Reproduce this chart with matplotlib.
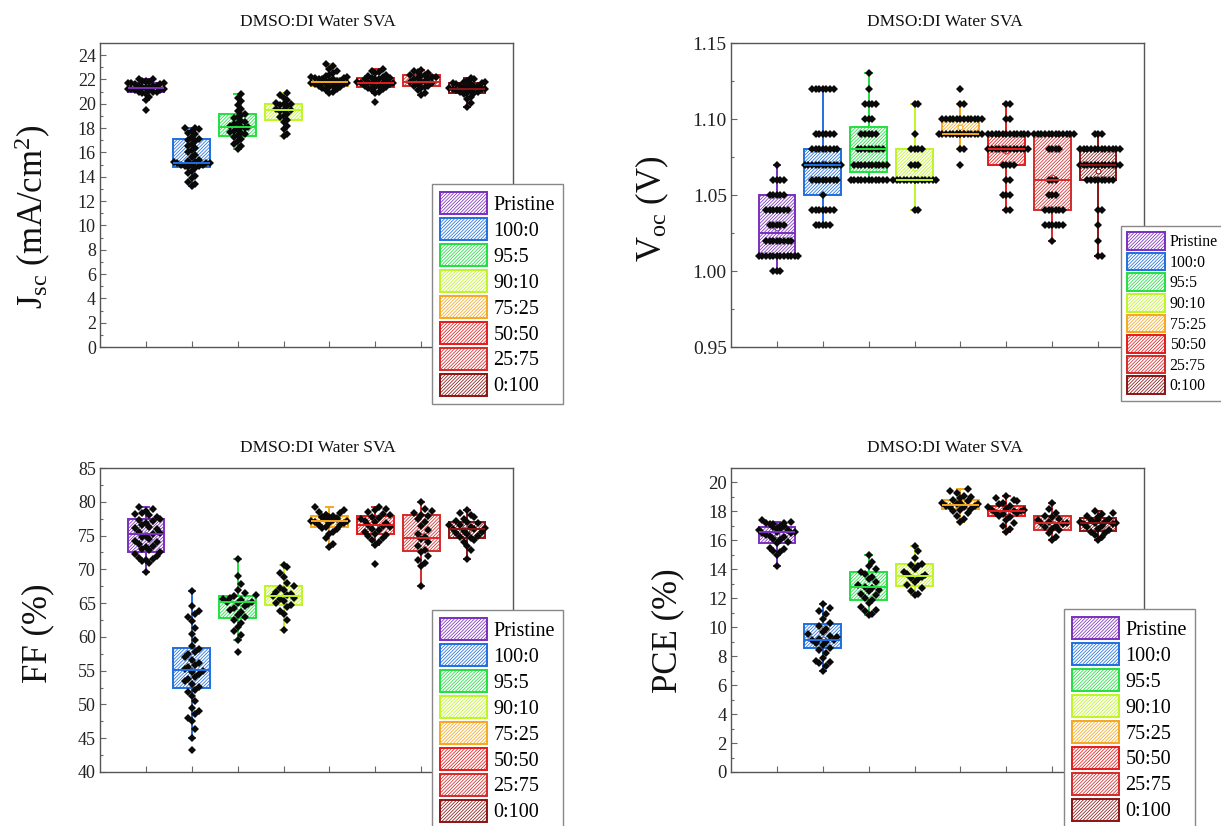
import numpy as np
import matplotlib
matplotlib.use("Agg")
import matplotlib.pyplot as plt
from matplotlib.patches import Patch

plt.rcParams['font.family'] = ['Liberation Serif', 'DejaVu Serif']
plt.rcParams['mathtext.fontset'] = 'custom'
plt.rcParams['mathtext.rm'] = 'Liberation Serif'
plt.rcParams['mathtext.it'] = 'Liberation Serif:italic'
plt.rcParams['hatch.linewidth'] = 0.55

# ---------------- data ----------------
groups = ["Pristine", "100:0", "95:5", "90:10", "75:25", "50:50", "25:75", "0:100"]
colors = ["#7B2FBE", "#1F6FE0", "#22E040", "#BFF526", "#F5A81F", "#E41A1A", "#D42A2A", "#8B1414"]
title_text = "DMSO:DI Water SVA"

# Jsc (mA/cm2)
jsc_points = [
    [19.5, 20.3, 20.6, 20.8, 20.9, 21.0, 21.0, 21.0, 21.1, 21.1, 21.1, 21.2, 21.2, 21.2, 21.3, 21.3, 21.3, 21.3,
     21.4, 21.4, 21.4, 21.5, 21.5, 21.5, 21.6, 21.6, 21.7, 21.7, 21.7, 21.8, 21.8, 21.9, 21.9, 22.0, 22.0],
    [13.25, 13.4, 13.6, 13.9, 14.1, 14.3, 14.5, 14.7, 14.8, 14.9, 14.9, 15.0, 15.0, 15.0, 15.1, 15.1, 15.1, 15.2,
     15.2, 15.3, 15.4, 15.6, 15.8, 16.0, 16.2, 16.4, 16.5, 16.7, 16.9, 17.0, 17.1, 17.3, 17.5, 17.6, 17.8, 17.9, 18.0, 18.05],
    [16.3, 16.5, 16.7, 16.9, 17.1, 17.3, 17.4, 17.5, 17.6, 17.7, 17.8, 17.9, 18.0, 18.1, 18.1, 18.2, 18.3, 18.4,
     18.5, 18.6, 18.8, 18.9, 19.1, 19.2, 19.4, 19.6, 19.9, 20.2, 20.5, 20.8],
    [17.35, 17.5, 17.9, 18.2, 18.5, 18.7, 18.9, 19.0, 19.2, 19.4, 19.5, 19.5, 19.6, 19.8, 19.9, 20.0, 20.0, 20.1,
     20.3, 20.5, 20.7, 20.9],
    [20.85, 21.0, 21.1, 21.2, 21.3, 21.4, 21.4, 21.5, 21.5, 21.6, 21.6, 21.6, 21.7, 21.7, 21.7, 21.8, 21.8, 21.8,
     21.8, 21.9, 21.9, 21.9, 22.0, 22.0, 22.0, 22.1, 22.1, 22.2, 22.2, 22.3, 22.4, 22.5, 22.7, 22.9, 23.1, 23.3],
    [20.15, 20.85, 21.0, 21.1, 21.2, 21.3, 21.35, 21.4, 21.5, 21.5, 21.6, 21.6, 21.7, 21.7, 21.75, 21.8, 21.8,
     21.9, 21.9, 22.0, 22.0, 22.0, 22.1, 22.1, 22.2, 22.3, 22.4, 22.5, 22.6, 22.7, 22.9],
    [20.7, 20.9, 21.1, 21.3, 21.4, 21.5, 21.5, 21.6, 21.7, 21.8, 21.8, 21.9, 22.0, 22.0, 22.1, 22.2, 22.2, 22.3,
     22.4, 22.4, 22.5, 22.6, 22.7, 22.8],
    [19.75, 20.1, 20.4, 20.6, 20.8, 20.9, 20.9, 21.0, 21.0, 21.1, 21.1, 21.2, 21.2, 21.2, 21.3, 21.3, 21.3, 21.4,
     21.4, 21.5, 21.5, 21.6, 21.6, 21.7, 21.7, 21.8, 21.8, 21.9, 22.0, 22.1],
]
jsc_q1 = [21.0, 14.8, 17.37, 18.65, 21.45, 21.35, 21.5, 20.85]
jsc_med = [21.3, 15.1, 18.1, 19.5, 21.8, 21.75, 21.8, 21.25]
jsc_q3 = [21.7, 17.07, 19.15, 20.0, 22.1, 22.1, 22.4, 21.7]
jsc_lo = [20.3, 13.25, 16.3, 17.35, 20.85, 20.85, 20.7, 19.75]
jsc_hi = [22.0, 18.05, 20.8, 20.9, 23.3, 22.9, 22.8, 22.1]

# Voc (V): discrete levels and counts per group
voc_levels = [1.00, 1.01, 1.02, 1.03, 1.04, 1.05, 1.06, 1.07, 1.08, 1.09, 1.10, 1.11, 1.12, 1.13]
voc_counts = [
    [3, 12, 8, 5, 7, 5, 4, 1, 0, 0, 0, 0, 0, 0],
    [0, 0, 0, 5, 7, 1, 8, 11, 8, 6, 0, 0, 7, 0],
    [0, 0, 0, 0, 0, 0, 11, 10, 8, 5, 3, 4, 1, 1],
    [0, 0, 0, 0, 2, 0, 14, 3, 4, 1, 0, 2, 0, 0],
    [0, 0, 0, 0, 0, 0, 0, 1, 2, 16, 12, 2, 1, 0],
    [0, 0, 0, 0, 2, 3, 2, 4, 12, 12, 2, 2, 0, 0],
    [0, 0, 1, 6, 6, 3, 3, 0, 4, 12, 0, 0, 0, 0],
    [0, 2, 1, 1, 2, 0, 8, 12, 12, 3, 0, 0, 0, 0],
]
voc_q1 = [1.01, 1.05, 1.065, 1.06, 1.09, 1.07, 1.04, 1.06]
voc_med = [1.025, 1.07, 1.08, 1.06, 1.09, 1.08, 1.06, 1.07]
voc_q3 = [1.05, 1.08, 1.095, 1.08, 1.10, 1.09, 1.09, 1.08]
voc_lo = [1.00, 1.03, 1.06, 1.04, 1.08, 1.04, 1.02, 1.01]
voc_hi = [1.07, 1.12, 1.13, 1.11, 1.11, 1.11, 1.09, 1.09]

# FF (%)
ff_points = [
    [69.6, 71.0, 71.2, 71.4, 71.5, 71.7, 72.0, 72.3, 72.5, 72.8, 73.0, 73.3, 73.5, 73.8, 74.0, 74.2, 74.5, 74.8,
     75.0, 75.2, 75.4, 75.6, 75.9, 76.1, 76.3, 76.6, 76.9, 77.1, 77.3, 77.5, 77.8, 78.0, 78.2, 78.4, 78.7, 79.0, 79.3],
    [43.2, 45.1, 46.4, 47.5, 48.0, 48.6, 49.0, 49.5, 50.5, 51.2, 51.8, 52.2, 52.6, 53.0, 53.4, 53.8, 54.1, 54.5,
     54.8, 55.0, 55.2, 55.5, 55.8, 56.2, 56.6, 57.0, 57.4, 57.8, 58.2, 58.7, 59.5, 60.5, 61.3, 62.3, 62.9, 63.4,
     63.9, 64.5, 66.8],
    [57.7, 59.6, 60.3, 60.8, 61.5, 62.0, 62.5, 62.9, 63.3, 63.7, 64.0, 64.3, 64.6, 64.8, 65.0, 65.1, 65.2, 65.4,
     65.6, 65.8, 66.0, 66.2, 66.5, 67.0, 67.8, 69.0, 71.5],
    [61.0, 62.5, 63.4, 63.9, 64.4, 64.7, 65.0, 65.3, 65.6, 65.8, 66.0, 66.2, 66.4, 66.7, 67.0, 67.3, 67.5, 68.0,
     68.8, 69.5, 70.4, 70.6],
    [73.3, 73.8, 74.6, 75.2, 75.6, 75.9, 76.1, 76.3, 76.5, 76.6, 76.8, 76.9, 77.0, 77.1, 77.2, 77.2, 77.3, 77.4,
     77.5, 77.5, 77.6, 77.7, 77.8, 77.8, 77.9, 78.0, 78.1, 78.3, 78.5, 78.8, 79.2],
    [70.8, 73.6, 74.0, 74.3, 74.6, 74.9, 75.1, 75.3, 75.5, 75.8, 76.0, 76.2, 76.4, 76.6, 76.8, 77.0, 77.2, 77.4,
     77.6, 77.8, 78.0, 78.2, 78.5, 78.8, 79.0, 79.3],
    [67.5, 70.5, 71.0, 71.4, 72.0, 72.5, 72.9, 73.4, 74.0, 74.5, 74.8, 75.2, 75.8, 76.4, 77.0, 77.5, 77.9, 78.1,
     78.3, 78.6, 79.0, 79.9],
    [71.6, 72.8, 73.5, 74.0, 74.3, 74.6, 74.8, 75.0, 75.2, 75.4, 75.6, 75.7, 75.9, 76.0, 76.1, 76.3, 76.5, 76.6,
     76.8, 77.0, 77.2, 77.4, 77.7, 78.0, 78.3, 78.8],
]
ff_q1 = [72.6, 52.4, 62.8, 64.7, 76.2, 75.2, 72.7, 74.7]
ff_med = [75.3, 55.1, 65.1, 66.0, 77.2, 76.6, 74.7, 75.9]
ff_q3 = [77.4, 58.3, 66.1, 67.5, 77.9, 77.9, 78.0, 77.0]
ff_lo = [69.6, 45.1, 59.6, 61.0, 73.3, 73.6, 67.5, 71.6]
ff_hi = [79.3, 66.8, 71.5, 70.6, 79.2, 79.3, 79.9, 78.8]

# PCE (%)
pce_points = [
    [14.2, 15.0, 15.2, 15.3, 15.4, 15.5, 15.8, 15.9, 16.0, 16.1, 16.2, 16.3, 16.4, 16.5, 16.5, 16.6, 16.6, 16.7,
     16.7, 16.8, 16.8, 16.9, 17.0, 17.0, 17.1, 17.1, 17.2, 17.2, 17.3, 17.4],
    [7.0, 7.3, 7.5, 7.6, 7.7, 7.9, 8.2, 8.4, 8.6, 8.8, 8.9, 9.0, 9.1, 9.1, 9.2, 9.3, 9.4, 9.5, 9.7, 9.9, 10.1,
     10.3, 10.6, 10.9, 11.1, 11.3, 11.6],
    [10.85, 10.9, 11.1, 11.2, 11.4, 11.7, 11.9, 12.0, 12.2, 12.3, 12.5, 12.6, 12.7, 12.8, 12.9, 13.1, 13.3, 13.5,
     13.7, 13.8, 14.0, 14.2, 14.5, 15.0],
    [12.23, 12.3, 12.5, 12.7, 12.9, 13.1, 13.3, 13.4, 13.5, 13.6, 13.7, 13.8, 14.0, 14.2, 14.3, 14.4, 14.8, 15.3, 15.6],
    [17.25, 17.5, 17.7, 17.9, 18.0, 18.1, 18.2, 18.3, 18.3, 18.4, 18.4, 18.5, 18.5, 18.6, 18.6, 18.7, 18.8, 18.9,
     19.0, 19.1, 19.3, 19.4, 19.55],
    [16.55, 16.8, 17.0, 17.2, 17.4, 17.6, 17.7, 17.8, 17.9, 17.9, 18.0, 18.0, 18.1, 18.1, 18.2, 18.3, 18.4, 18.5,
     18.6, 18.7, 18.8, 18.9, 19.1],
    [16.0, 16.2, 16.5, 16.7, 16.8, 16.9, 17.0, 17.1, 17.2, 17.2, 17.3, 17.4, 17.5, 17.6, 17.7, 17.9, 18.2, 18.6],
    [16.0, 16.2, 16.4, 16.5, 16.6, 16.7, 16.8, 16.9, 17.0, 17.1, 17.1, 17.2, 17.2, 17.3, 17.3, 17.4, 17.4, 17.5,
     17.6, 17.7, 17.8, 17.9, 18.0],
]
pce_q1 = [15.85, 8.54, 11.88, 12.85, 18.16, 17.65, 16.73, 16.65]
pce_med = [16.55, 9.11, 12.76, 13.55, 18.45, 18.0, 17.2, 17.2]
pce_q3 = [16.9, 10.2, 13.84, 14.35, 18.8, 18.4, 17.65, 17.55]
pce_lo = [14.25, 7.0, 10.85, 12.23, 17.25, 16.55, 16.0, 16.0]
pce_hi = [17.3, 11.6, 15.0, 15.6, 19.55, 19.1, 18.6, 18.0]

voc_points = [[lv for lv, c in zip(voc_levels, cnt) for _ in range(c)] for cnt in voc_counts]

# ---------------- figure ----------------
W, H = 1221, 826
fig = plt.figure(figsize=(W / 100, H / 100), dpi=100)
HATCH = '//////////'


def add_ax(l, t, r, b):
    return fig.add_axes([l / W, 1 - b / H, (r - l) / W, (b - t) / H])


def swarm(ax, x0, vals, dx=3.6, dy=8.0, xmax=22.0):
    """Beeswarm-like layout in pixel space (rectangular collision box)."""
    vals = np.asarray(vals, float)
    pts = ax.transData.transform(np.column_stack([np.full(len(vals), x0), vals]))
    ys = pts[:, 1]
    order = np.argsort(ys, kind="stable")
    placed = []
    offs = np.zeros(len(vals))
    cands = [0.0]
    for j in range(1, 60):
        cands += [j * dx, -j * dx]
    for i in order:
        y = ys[i]
        near = [px for px, py in placed if abs(py - y) < dy]
        chosen = None
        for c in cands:
            if abs(c) > xmax:
                break
            if all(abs(c - px) >= dx * 0.999 for px in near):
                chosen = c
                break
        if chosen is None:
            grid = [c for c in cands if abs(c) <= xmax]
            chosen = min(grid, key=lambda c: sum(abs(c - px) < dx for px in near))
        placed.append((chosen, y))
        offs[i] = chosen
    x_px0 = ax.transData.transform((x0, 0))[0]
    xs = ax.transData.inverted().transform(np.column_stack([x_px0 + offs, ys]))[:, 0]
    return xs, vals


def panel(ax, pts, q1, med, q3, lo, hi, ylim, major, minor, tick_fs, yfmt, dy, xmax):
    ax.set_xlim(0, 9)
    ax.set_ylim(*ylim)
    pos = np.arange(1, 9)
    stats = []
    for i in range(8):
        stats.append(dict(med=med[i], q1=q1[i], q3=q3[i], whislo=lo[i], whishi=hi[i],
                          mean=float(np.mean(pts[i])), fliers=[]))
    bp = ax.bxp(stats, positions=pos, widths=0.8, patch_artist=True, showmeans=True,
                showfliers=False, capwidths=0.14, manage_ticks=False)
    for i, c in enumerate(colors):
        b = bp['boxes'][i]
        b.set_facecolor('white')
        b.set_edgecolor(c)
        b.set_hatch(HATCH)
        b.set_linewidth(1.4)
        b.set_zorder(2)
        for w in bp['whiskers'][2 * i:2 * i + 2]:
            w.set_color(c); w.set_linewidth(1.4); w.set_zorder(2.5)
        for cp in bp['caps'][2 * i:2 * i + 2]:
            cp.set_color(c); cp.set_linewidth(1.4); cp.set_zorder(2.5)
        m = bp['medians'][i]
        m.set_color(c); m.set_linewidth(1.4); m.set_zorder(4)
        mn = bp['means'][i]
        mn.set_marker('o'); mn.set_markersize(3.5); mn.set_markerfacecolor('white')
        mn.set_markeredgecolor(c); mn.set_markeredgewidth(0.8); mn.set_zorder(2.8)
    for i in range(8):
        xs, ys = swarm(ax, pos[i], pts[i], dy=dy, xmax=xmax)
        ax.plot(xs, ys, linestyle='none', marker='D', markersize=3.8, color='#0a0a0a',
                markeredgewidth=0, zorder=3)
    ax.set_xticks(pos)
    ax.set_xticklabels([])
    ax.set_yticks(major)
    ax.set_yticks(minor, minor=True)
    ax.set_yticklabels([yfmt.format(v) for v in major])
    ax.tick_params(axis='both', which='major', direction='in', length=4.2, width=0.8,
                   color='#666666', labelsize=tick_fs, labelcolor='#222222', pad=3)
    ax.tick_params(axis='y', which='minor', direction='in', length=2.5, width=0.8, color='#666666')
    ax.tick_params(axis='x', which='minor', bottom=False)
    for s in ax.spines.values():
        s.set_color('#555555')
        s.set_linewidth(1.0)


def legend(left, top, fs, hl, hh, ls):
    handles = [Patch(facecolor='white', edgecolor=c, hatch=HATCH, linewidth=1.4) for c in colors]
    lg = fig.legend(handles, groups, loc='upper left', bbox_to_anchor=(left / W, 1 - top / H),
                    fontsize=fs, handlelength=hl, handleheight=hh, labelspacing=ls,
                    handletextpad=0.3, borderpad=0.4, borderaxespad=0, fancybox=False,
                    framealpha=1, edgecolor='#888888')
    lg.get_frame().set_linewidth(1.0)
    lg.set_zorder(10)
    return lg


ax1 = add_ax(100, 43, 513, 347)
ax2 = add_ax(731, 43, 1144, 347)
ax3 = add_ax(100, 468, 513, 772)
ax4 = add_ax(731, 468, 1144, 772)

panel(ax1, jsc_points, jsc_q1, jsc_med, jsc_q3, jsc_lo, jsc_hi, (0, 25),
      np.arange(0, 25, 2), np.arange(1, 25, 2), 13, "{:.0f}", 6.0, 19.0)
panel(ax2, voc_points, voc_q1, voc_med, voc_q3, voc_lo, voc_hi, (0.95, 1.15),
      np.arange(0.95, 1.1501, 0.05), np.arange(0.975, 1.15, 0.05), 14, "{:.2f}", 8.0, 22.0)
panel(ax3, ff_points, ff_q1, ff_med, ff_q3, ff_lo, ff_hi, (40, 85),
      np.arange(40, 86, 5), np.arange(42.5, 85, 5), 13, "{:.0f}", 11.0, 20.0)
panel(ax4, pce_points, pce_q1, pce_med, pce_q3, pce_lo, pce_hi, (0, 21),
      np.arange(0, 21, 2), np.arange(1, 21, 2), 13.5, "{:.0f}", 11.0, 20.0)

# titles
for (cx, cy) in [(318, 22), (945, 22), (318, 448), (945, 448)]:
    fig.text(cx / W, 1 - cy / H, title_text, ha='center', va='center', fontsize=12.5, color='#111111')

# y labels
fig.text(33 / W, 1 - 217 / H, r'J$_{\mathrm{sc}}$ (mA/cm$^{2}$)', rotation=90, ha='center', va='center',
         fontsize=25, color='#111111')
fig.text(652 / W, 1 - 209 / H, r'V$_{\mathrm{oc}}$ (V)', rotation=90, ha='center', va='center',
         fontsize=25, color='#111111')
fig.text(38 / W, 1 - 633 / H, 'FF (%)', rotation=90, ha='center', va='center', fontsize=25, color='#111111')
fig.text(668 / W, 1 - 631 / H, 'PCE (%)', rotation=90, ha='center', va='center', fontsize=25, color='#111111')

# legends
legend(432, 184, 14.5, 2.35, 1.3, 0.16)
legend(1121, 226, 11.3, 2.4, 1.35, 0.16)
legend(432, 610, 14.5, 2.35, 1.3, 0.16)
legend(1064, 609, 14.5, 2.35, 1.3, 0.16)

fig.savefig("out.png", dpi=100)
